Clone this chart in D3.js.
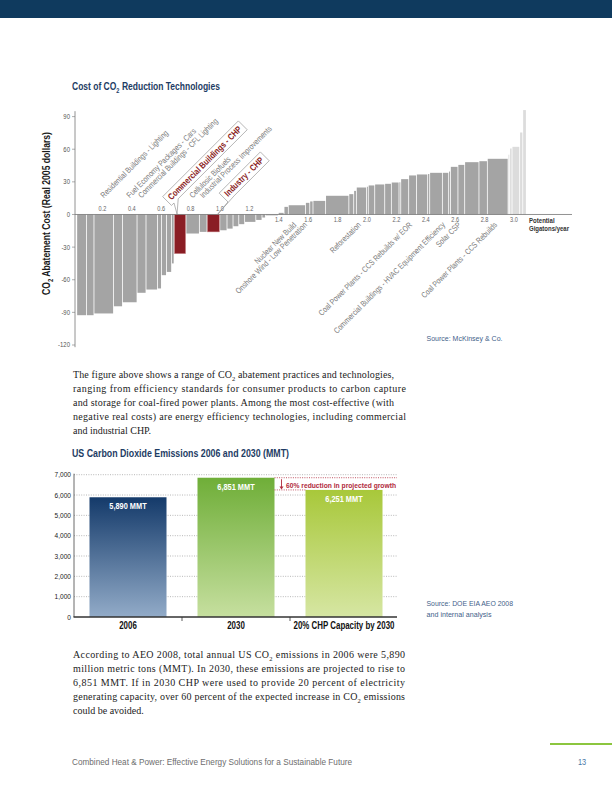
<!DOCTYPE html>
<html><head><meta charset="utf-8">
<script src="https://cdn.jsdelivr.net/npm/d3@7"></script>
<style>
html,body{margin:0;padding:0;background:#fff;}
svg{display:block;}
</style></head><body>
<svg id="page" width="612" height="792"></svg>
<script>
// ---------- DATA: Cost of CO2 reduction technologies (abatement curve) ----------
const abateWidths = [0.066,0.051,0.133,0.061,0.099,0.061,0.078,0.027,0.034,0.035,0.017,0.081,0.091,0.052,0.087,0.049,0.041,0.039,0.040,0.076,0.042,0.024,0.087,0.039,0.029,0.117,0.029,0.022,0.086,0.158,0.033,0.018,0.069,0.012,0.044,0.068,0.045,0.052,0.012,0.054,0.053,0.076,0.014,0.086,0.043,0.012,0.051,0.046,0.097,0.057,0.141,0.011,0.016,0.052,0.021,0.024];
const abateCosts  = [-92.6,-92.6,-91,-84.4,-80.7,-72,-69,-68,-55.8,-52.8,-45,-36,-17.5,-16,-16,-14.5,-13,-10.8,-8.9,-6.8,-5,-2.8,-0.8,1.5,7,8.5,10.7,12,12.5,17.2,18.7,21.7,24.8,25.5,26.7,27.6,28.2,29.4,29.6,32.5,35.9,36.8,37.2,38.3,38.3,39.5,43.8,45.6,48.1,49,51.2,55,60.7,62.2,75.4,96];
const abateKinds  = ["g","g","g","g","g","g","g","g","g","g","g","r","g","g","r","g","g","g","g","g","g","g","g","g","g","g","g","g","g","g","g","g","g","g","g","g","g","g","g","g","g","g","g","g","g","g","g","g","g","g","g","l","l","l","l","l"];
const abateXTicks = [0.2,0.4,0.6,0.8,1.0,1.2,1.4,1.6,1.8,2.0,2.2,2.4,2.6,2.8,3.0];
const abateYTicks = [90,60,30,0,-30,-60,-90,-120];
const topLabels = ["Residential Buildings - Lighting","Fuel Economy Packages - Cars","Commercial Buildings - CFL Lighting","Cellulosic Biofuels","Industrial Process Improvements"];
const topLabelBars = [2,4,5,12,13];
const calloutLabels = ["Commercial Buildings - CHP","Industry - CHP"];
const calloutBars = [11,14];
const bottomLabels = ["Nuclear New Build","Onshore Wind - Low Penetration","Reforestation","Coal Power Plants - CCS Rebuilds w/ EOR","Commercial Buildings - HVAC Equipment Efficiency","Solar CSP","Coal Power Plants - CCS Rebuilds"];
const bottomLabelBars = [25,26,32,40,44,47,50];

// ---------- DATA: US CO2 emissions ----------
const emCategories = ["2006","2030","20% CHP Capacity by 2030"];
const emValues = [5890,6851,6251];
const emYTicks = [0,1000,2000,3000,4000,5000,6000,7000];

// ---------- TEXT ----------
const para1 = ["The figure above shows a range of CO{2} abatement practices and technologies,",
 "ranging from efficiency standards for consumer products to carbon capture",
 "and storage for coal-fired power plants. Among the most cost-effective (with",
 "negative real costs) are energy efficiency technologies, including commercial",
 "and industrial CHP."];
const para2 = ["According to AEO 2008, total annual US CO{2} emissions in 2006 were 5,890",
 "million metric tons (MMT). In 2030, these emissions are projected to rise to",
 "6,851 MMT. If in 2030 CHP were used to provide 20 percent of electricity",
 "generating capacity, over 60 percent of the expected increase in CO{2} emissions",
 "could be avoided."];

const SANS = "'Liberation Sans',Arial,sans-serif";
const SERIF = "'Liberation Serif','DejaVu Serif',serif";
const NAVY = "#1d3c64";
const CF = 0.82; // condensed factor

const svg = d3.select("#page");

function rich(sel, str, sub) {
  const parts = str.split("{2}");
  parts.forEach((p,i)=>{
    if (i>0) sel.append("tspan").attr("font-size", sub).attr("dy", sub*0.45).text("2");
    const t = sel.append("tspan").text(p);
    if (i>0) t.attr("dy", -sub*0.45);
  });
  return sel;
}
function cond(sel, f) {
  sel.each(function(){ const L = this.getComputedTextLength();
    d3.select(this).attr("textLength", L*(f||CF)).attr("lengthAdjust","spacingAndGlyphs"); });
  return sel;
}
function fit(sel, L) { return sel.attr("textLength", L).attr("lengthAdjust","spacingAndGlyphs"); }
// one bold text with a subscript 2, squeezed horizontally to a target length by a group scale
function richFit(transform, str, fs, sub, target, fill, anchor) {
  const g = svg.append("g").attr("transform", transform);
  const s = g.append("g");
  const t = rich(s.append("text").attr("font-family",SANS).attr("font-weight","bold")
    .attr("font-size",fs).attr("fill",fill), str, sub);
  const L = t.node().getComputedTextLength();
  if (anchor === "middle") t.attr("x", -L/2);
  s.attr("transform", `scale(${target/L},1)`);
  return g;
}

// header band
svg.append("rect").attr("x",0).attr("y",0).attr("width",612).attr("height",18).attr("fill","#0f3a5e");

// ================= Chart 1 =================
const c1 = svg.append("g");
richFit("translate(72,89.5)", "Cost of CO{2} Reduction Technologies", 10.5, 7, 148, NAVY);

const x1 = d3.scaleLinear().domain([0,3.4]).range([75,574.8]);
const y1 = d3.scaleLinear().domain([-120,90]).range([345,116.6]);

const starts = [0.012];
abateWidths.forEach((w,i)=>starts.push(starts[i]+w));
const bars = abateWidths.map((w,i)=>({i, a:starts[i], b:starts[i+1], v:abateCosts[i], k:abateKinds[i]}));
const fillOf = {g:"#a4a4a4", r:"#8a1d24", l:"#dcdcdc"};

c1.selectAll("rect.ab").data(bars).join("rect").attr("class","ab")
  .attr("x", d=>x1(d.a)+0.4)
  .attr("width", d=>Math.max(0.6, x1(d.b)-x1(d.a)-0.8))
  .attr("y", d=>y1(Math.max(0,d.v)))
  .attr("height", d=>Math.max(0.4, Math.abs(y1(d.v)-y1(0))))
  .attr("fill", d=>fillOf[d.k])
  .attr("stroke", d=>d.k==="r" ? "#c98b8e" : "none").attr("stroke-width",0.5);

// axes
c1.append("line").attr("x1",75).attr("x2",572).attr("y1",y1(0)).attr("y2",y1(0)).attr("stroke","#777").attr("stroke-width",0.8);
c1.append("line").attr("x1",75).attr("x2",75).attr("y1",y1(95)).attr("y2",y1(-122)).attr("stroke","#777").attr("stroke-width",0.8);
c1.selectAll("line.yt").data(abateYTicks).join("line").attr("class","yt")
  .attr("x1",72).attr("x2",75).attr("y1",d=>y1(d)).attr("y2",d=>y1(d)).attr("stroke","#777").attr("stroke-width",0.6);
cond(c1.selectAll("text.yl").data(abateYTicks).join("text").attr("class","yl")
  .attr("x",70).attr("y",d=>y1(d)+2.4).attr("text-anchor","end")
  .attr("font-family",SANS).attr("font-size",7).attr("fill","#555").text(d=>d), 0.85);
cond(c1.selectAll("text.xl").data(abateXTicks).join("text").attr("class","xl")
  .attr("x",d=>x1(d)-2).attr("y",d=> d<=1.2 ? y1(0)-3 : y1(0)+7.5).attr("text-anchor","middle")
  .attr("font-family",SANS).attr("font-size",6.6).attr("fill","#666").text(d=>d.toFixed(1)), 0.85);
cond(c1.append("text").attr("x",529).attr("y",222.5).attr("font-family",SANS).attr("font-weight","bold")
  .attr("font-size",7.4).attr("fill","#333").text("Potential"));
fit(c1.append("text").attr("x",529).attr("y",230.5).attr("font-family",SANS).attr("font-weight","bold")
  .attr("font-size",7.4).attr("fill","#333").text("Gigatons/year"), 40);
richFit("translate(49.5,213.5) rotate(-90)", "CO{2} Abatement Cost  (Real 2005 dollars)", 10.8, 7.5, 163, "#1a1a1a", "middle");

const mid = i => x1((bars[i].a+bars[i].b)/2);
// top labels
topLabels.forEach((t,j)=>{
  cond(c1.append("text").attr("transform",`translate(${mid(topLabelBars[j])},${y1(0)-16}) rotate(-45)`)
    .attr("font-family",SANS).attr("font-size",8.2).attr("fill","#7a7a7a").text(t));
});
// bottom labels
bottomLabels.forEach((t,j)=>{
  cond(c1.append("text").attr("transform",`translate(${mid(bottomLabelBars[j])},${y1(0)+11}) rotate(-45)`)
    .attr("text-anchor","end").attr("font-family",SANS).attr("font-size",8.2).attr("fill","#7a7a7a").text(t));
});
// callouts
const calloutAnchor = [[171.5,200.5],[228,197]];
const calloutTipFrac = [0.25,0.85];
const calloutBase = [[0,6],[-3.5,5]];
calloutLabels.forEach((t,j)=>{
  const [ax,ay] = calloutAnchor[j];
  const b = bars[calloutBars[j]];
  const tipX = x1(b.a + (b.b-b.a)*calloutTipFrac[j]), tipY = y1(0)-0.5;
  const dx = tipX-ax, dy = tipY-ay, c = Math.SQRT1_2;
  const lx = (dx - dy)*c, ly = (dx + dy)*c;
  const g = c1.append("g").attr("transform",`translate(${ax},${ay}) rotate(-45)`);
  const path = g.append("path");
  const txt = cond(g.append("text").attr("font-family",SANS).attr("font-weight","bold").attr("font-size",9)
    .attr("fill","#8a1d24").text(t));
  const w = +txt.attr("textLength");
  const [b1,b2] = calloutBase[j];
  path.attr("d",`M-3.5,-9H${w+3.5}V3.5H${b2}L${lx},${ly}L${b1},3.5H-3.5Z`)
    .attr("fill","#fff").attr("stroke","#8c8c8c").attr("stroke-width",0.6);
});

fit(c1.append("text").attr("x",426.5).attr("y",341).attr("font-family",SANS).attr("font-size",8)
  .attr("fill","#3f628a").text("Source: McKinsey & Co."), 76);

// ================= Paragraphs =================
function para(lines, y0, step, widths) {
  lines.forEach((l,i)=>{
    const t = svg.append("text").attr("x",73).attr("y",y0+i*step).attr("font-family",SERIF)
      .attr("font-size",10).attr("fill","#222");
    if (widths[i]) t.attr("textLength",widths[i]).attr("lengthAdjust","spacing");
    rich(t, l, 6.5);
  });
}
para(para1, 378, 14, [321,333,321,333,null]);
para(para2, 658, 14, [332,332,332,332,null]);

// ================= Chart 2 =================
const c2 = svg.append("g");
fit(c2.append("text").attr("x",72).attr("y",457.3).attr("font-family",SANS).attr("font-weight","bold")
  .attr("font-size",10.5).attr("fill",NAVY).text("US Carbon Dioxide Emissions 2006 and 2030 (MMT)"), 217);

const x2 = d3.scaleBand().domain(emCategories).range([74,398]).paddingInner(0.287).paddingOuter(0.1435);
const y2 = d3.scaleLinear().domain([0,7000]).range([617,474.7]);

c2.selectAll("line.grid").data(emYTicks.filter(d=>d>0)).join("line").attr("class","grid")
  .attr("x1",74).attr("x2",397).attr("y1",d=>y2(d)).attr("y2",d=>y2(d))
  .attr("stroke","#9a9a9a").attr("stroke-width",0.7).attr("stroke-dasharray","1,1.4");
cond(c2.selectAll("text.yl").data(emYTicks).join("text").attr("class","yl")
  .attr("x",71).attr("y",d=>y2(d)+2.5).attr("text-anchor","end")
  .attr("font-family",SANS).attr("font-size",7.8).attr("fill","#222").text(d=>d3.format(",")(d)), 0.84);

const grads = [["#143a6a","#92abc8"],["#6fae38","#c6df9f"],["#a8c83a","#d6e6a3"]];
const defs = svg.append("defs");
grads.forEach((g,i)=>{
  const lg = defs.append("linearGradient").attr("id","eg"+i).attr("x1",0).attr("x2",0).attr("y1",0).attr("y2",1);
  lg.append("stop").attr("offset","0%").attr("stop-color",g[0]);
  lg.append("stop").attr("offset","100%").attr("stop-color",g[1]);
});
c2.selectAll("rect.em").data(emValues).join("rect").attr("class","em")
  .attr("x",(d,i)=>x2(emCategories[i])).attr("width",x2.bandwidth())
  .attr("y",d=>y2(d)).attr("height",d=>y2(0)-y2(d)).attr("fill",(d,i)=>`url(#eg${i})`);
cond(c2.selectAll("text.ev").data(emValues).join("text").attr("class","ev")
  .attr("x",(d,i)=>x2(emCategories[i])+x2.bandwidth()/2).attr("y",d=>y2(d)+12)
  .attr("text-anchor","middle").attr("font-family",SANS).attr("font-weight","bold").attr("font-size",9)
  .attr("fill","#fff").text(d=>d3.format(",")(d)+" MMT"));

// axes
c2.append("line").attr("x1",74).attr("x2",74).attr("y1",y2(7000)-1).attr("y2",y2(0)).attr("stroke","#444").attr("stroke-width",0.8);
c2.append("line").attr("x1",73.5).attr("x2",397).attr("y1",y2(0)).attr("y2",y2(0)).attr("stroke","#333").attr("stroke-width",1.4);
[1,2].forEach(i=>{
  const xm = (x2(emCategories[i-1])+x2.bandwidth()+x2(emCategories[i]))/2;
  c2.append("line").attr("x1",xm).attr("x2",xm).attr("y1",y2(0)).attr("y2",y2(0)+4).attr("stroke","#333").attr("stroke-width",0.8);
});
cond(c2.selectAll("text.cat").data(emCategories).join("text").attr("class","cat")
  .attr("x",d=>x2(d)+x2.bandwidth()/2).attr("y",628.5).attr("text-anchor","middle")
  .attr("font-family",SANS).attr("font-weight","bold").attr("font-size",10).attr("fill","#111").text(d=>d), 0.79);

// annotation
const red = "#b0293b";
const xr = x2(emCategories[1])+x2.bandwidth();
c2.append("line").attr("x1",xr).attr("x2",397).attr("y1",y2(emValues[1])).attr("y2",y2(emValues[1]))
  .attr("stroke",red).attr("stroke-width",0.8).attr("stroke-dasharray","1,1.3");
c2.append("line").attr("x1",xr).attr("x2",x2(emCategories[2])).attr("y1",y2(emValues[2])).attr("y2",y2(emValues[2]))
  .attr("stroke",red).attr("stroke-width",0.8).attr("stroke-dasharray","1,1.3");
const ax2 = xr+7;
c2.append("line").attr("x1",ax2).attr("x2",ax2).attr("y1",y2(emValues[1])+1.5).attr("y2",y2(emValues[2])-2.5)
  .attr("stroke",red).attr("stroke-width",0.9);
c2.append("path").attr("d",`M${ax2-2},${y2(emValues[2])-3.5}L${ax2+2},${y2(emValues[2])-3.5}L${ax2},${y2(emValues[2])-0.5}Z`).attr("fill",red);
fit(c2.append("text").attr("x",ax2+4.5).attr("y",487.7).attr("font-family",SANS).attr("font-weight","bold")
  .attr("font-size",8).attr("fill",red).text("60% reduction in projected growth"), 110);

fit(c2.append("text").attr("x",426.5).attr("y",605.5).attr("font-family",SANS).attr("font-size",8).attr("fill","#3f628a").text("Source: DOE EIA AEO 2008"), 86.5);
fit(c2.append("text").attr("x",426.5).attr("y",616.5).attr("font-family",SANS).attr("font-size",8).attr("fill","#3f628a").text("and internal analysis"), 65);

// footer
svg.append("line").attr("x1",550).attr("x2",612).attr("y1",744).attr("y2",744).attr("stroke","#8cc63f").attr("stroke-width",2);
fit(svg.append("text").attr("x",72).attr("y",765).attr("font-family",SANS).attr("font-size",9).attr("fill","#6d6d6d")
  .text("Combined Heat & Power: Effective Energy Solutions for a Sustainable Future"), 280);
cond(svg.append("text").attr("x",578).attr("y",765).attr("font-family",SANS).attr("font-size",9).attr("fill","#4a78a6").text("13"));
</script>
</body></html>
